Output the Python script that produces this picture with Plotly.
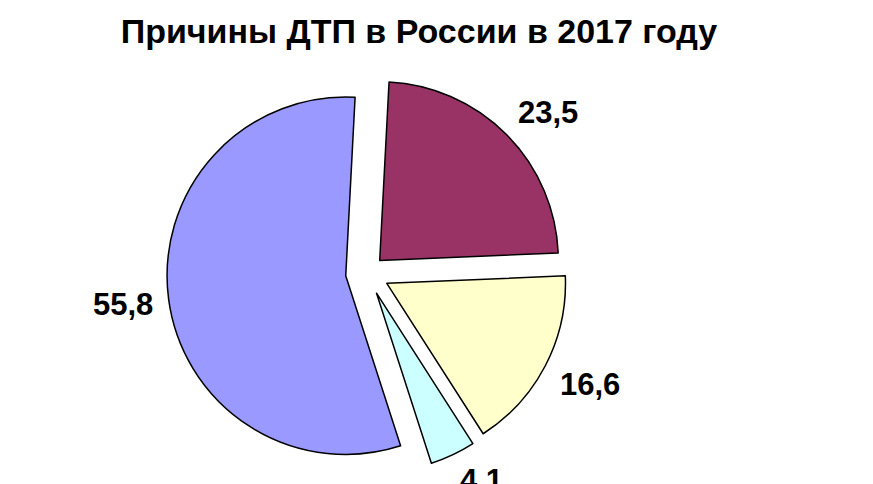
import math
import plotly.graph_objects as go

# ---- data ----
categories = ["Причина 1", "Причина 2", "Причина 3", "Причина 4"]
values = [23.5, 16.6, 4.1, 55.8]
value_labels = ["23,5", "16,6", "4,1", "55,8"]
colors = ["#993366", "#FFFFCC", "#CCFFFF", "#9999FF"]
title_text = "Причины ДТП в России в 2017 году"

# ---- layout geometry ----
W, H = 873, 484
cx_px, cy_px = 367, 273
box = 402
rotation = 3
pulls = [0.1, 0.125, 0.125, 0.12]
font_family = "Liberation Sans, Arial, sans-serif"
label_size = 31

dom_x = [(cx_px - 270) / W, (cx_px + 270) / W]
dom_y = [(H - (cy_px + box / 2)) / H, (H - (cy_px - box / 2)) / H]

fig = go.Figure(
    go.Pie(
        labels=categories,
        values=values,
        sort=False,
        direction="clockwise",
        rotation=rotation,
        pull=pulls,
        marker=dict(colors=colors, line=dict(color="black", width=1.5)),
        textinfo="none",
        hoverinfo="label+value",
        domain=dict(x=dom_x, y=dom_y),
        showlegend=False,
    )
)

# ---- value labels placed outside each slice (derived from values) ----
def text_width(s, size):
    w = 0.0
    for ch in s:
        w += 0.278 if ch in ",." else 0.556
    return w * size

R = box / 2 / (1 + max(pulls))
total = sum(values)
gap = 16
cum = 0.0
for v, lab, p in zip(values, value_labels, pulls):
    mid = math.radians(rotation + (cum + v / 2) / total * 360)
    cum += v
    s, c = math.sin(mid), math.cos(mid)
    hw = text_width(lab, label_size) / 2
    hh = 0.36 * label_size
    D = R * (1 + p) + gap
    ox = hw * math.copysign(min(1.0, abs(s) / 0.4), s)
    oy = hh * math.copysign(min(1.0, abs(c) / 0.4), c)
    x = cx_px + D * s + ox
    y = cy_px - D * c - oy
    fig.add_annotation(
        x=x / W, y=1 - y / H, xref="paper", yref="paper",
        text="<b>%s</b>" % lab, showarrow=False,
        xanchor="center", yanchor="middle",
        font=dict(family=font_family, size=label_size, color="black"),
    )

fig.update_layout(
    width=W, height=H, autosize=False,
    paper_bgcolor="white", plot_bgcolor="white",
    margin=dict(l=0, r=0, t=0, b=0),
    title=dict(
        text="<b>%s</b>" % title_text,
        x=419 / W, xref="container", xanchor="center",
        y=1 - 31 / H, yref="container", yanchor="middle",
        font=dict(family=font_family, size=34, color="black"),
    ),
)

fig.write_html(
    "out.html",
    config={"displayModeBar": False},
    post_script="document.body.style.margin='0';document.body.style.padding='0';",
)
